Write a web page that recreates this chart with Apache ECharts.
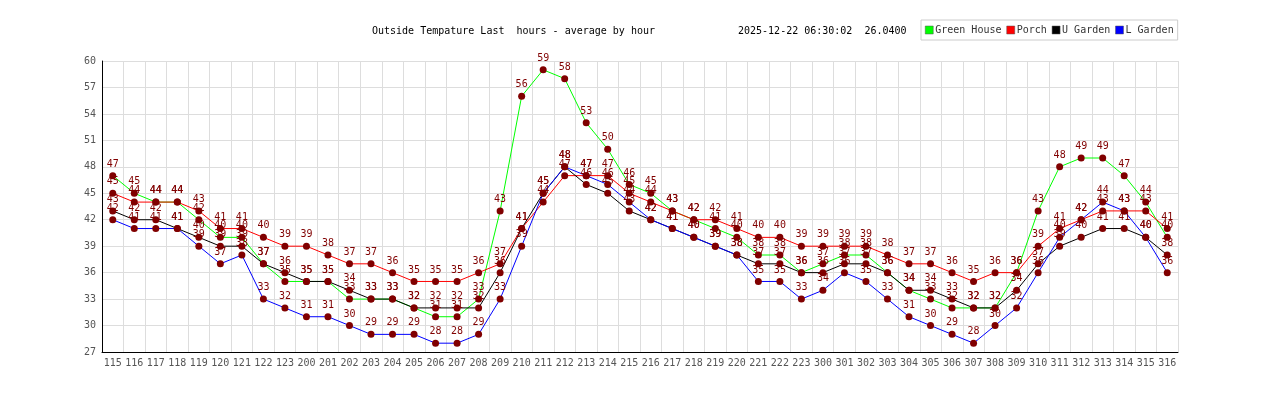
<!DOCTYPE html>
<html>
<head>
<meta charset="utf-8">
<script src="https://cdn.jsdelivr.net/npm/echarts@6/dist/echarts.min.js"></script>
<style>
html,body{margin:0;padding:0;background:#fff;}
#chart{width:1280px;height:400px;}
</style>
</head>
<body>
<div id="chart"></div>
<script>
const categories = ['115','116','117','118','119','120','121','122','123',
  '200','201','202','203','204','205','206','207','208','209','210','211','212','213','214','215','216','217','218','219','220','221','222','223',
  '300','301','302','303','304','305','306','307','308','309','310','311','312','313','314','315','316'];

const greenHouse = [47,45,44,44,42,40,40,37,35,
  35,35,33,33,33,32,31,31,33,43,56,59,58,53,50,46,45,43,42,41,40,38,38,36,
  37,38,38,36,34,33,32,32,32,36,43,48,49,49,47,44,40];

const porch = [45,44,44,44,43,41,41,40,39,
  39,38,37,37,36,35,35,35,36,37,41,44,47,47,47,45,44,43,42,42,41,40,40,39,
  39,39,39,38,37,37,36,35,36,36,39,41,42,43,43,43,41];

const uGarden = [43,42,42,41,40,39,39,37,36,
  35,35,34,33,33,32,32,32,32,36,41,45,48,46,45,43,42,41,40,39,38,37,37,36,
  36,37,37,36,34,34,33,32,32,34,37,39,40,41,41,40,38];

const lGarden = [42,41,41,41,39,37,38,33,32,
  31,31,30,29,29,29,28,28,29,33,39,45,48,47,46,44,42,41,40,39,38,35,35,33,
  34,36,35,33,31,30,29,28,30,32,36,40,42,44,43,40,36];

const yTicks = {min: 27, max: 60, interval: 3};
const titleText = 'Outside Tempature Last  hours - average by hour';
const stampText = '2025-12-22 06:30:02  26.0400';

const seriesDefs = [
  {name: 'Green House', data: greenHouse, color: '#00ff00'},
  {name: 'Porch', data: porch, color: '#ff0000'},
  {name: 'U Garden', data: uGarden, color: '#000000'},
  {name: 'L Garden', data: lGarden, color: '#0000ff'}
];

const FONT = '"DejaVu Sans Mono", "Liberation Mono", monospace';
const chart = echarts.init(document.getElementById('chart'), null, {renderer: 'canvas'});

chart.setOption({
  animation: false,
  backgroundColor: '#ffffff',
  textStyle: {fontFamily: FONT},
  title: [
    {text: titleText, left: 372, top: 26, padding: 0,
     textStyle: {fontFamily: FONT, fontSize: 10, fontWeight: 'normal', color: '#000'}},
    {text: stampText, left: 738, top: 26, padding: 0,
     textStyle: {fontFamily: FONT, fontSize: 10, fontWeight: 'normal', color: '#000'}}
  ],
  legend: {
    left: 921, top: 20,
    padding: [5, 4, 5, 4],
    borderColor: '#cccccc', borderWidth: 1,
    itemWidth: 8, itemHeight: 8, itemGap: 5,
    icon: 'rect',
    textStyle: {fontFamily: FONT, fontSize: 10, color: '#333', padding: [0, 0, 0, -3]},
    data: seriesDefs.map(s => ({name: s.name, itemStyle: {color: s.color, borderColor: '#555', borderWidth: 0.5}}))
  },
  grid: {left: 102, right: 102, top: 61, bottom: 48, containLabel: false},
  xAxis: {
    type: 'category',
    data: categories,
    boundaryGap: true,
    axisLine: {show: true, lineStyle: {color: '#000', width: 1}},
    axisTick: {show: false},
    axisLabel: {color: '#555', fontFamily: FONT, fontSize: 10, margin: 6, interval: 0},
    splitLine: {show: true, lineStyle: {color: '#dddddd', width: 1}}
  },
  yAxis: {
    type: 'value',
    min: yTicks.min, max: yTicks.max, interval: yTicks.interval,
    axisLine: {show: true, lineStyle: {color: '#000', width: 1}},
    axisTick: {show: false},
    axisLabel: {color: '#555', fontFamily: FONT, fontSize: 10, margin: 6},
    splitLine: {show: true, lineStyle: {color: '#dddddd', width: 1}}
  },
  series: seriesDefs.map(s => ({
    name: s.name,
    type: 'line',
    data: s.data,
    symbol: 'circle',
    symbolSize: 7,
    showAllSymbol: true,
    lineStyle: {color: s.color, width: 1},
    itemStyle: {color: '#800000', borderWidth: 0},
    label: {show: true, position: 'top', distance: 3, color: '#800000', fontFamily: FONT, fontSize: 10},
    labelLayout: {hideOverlap: false},
    emphasis: {disabled: true}
  }))
});
</script>
</body>
</html>
